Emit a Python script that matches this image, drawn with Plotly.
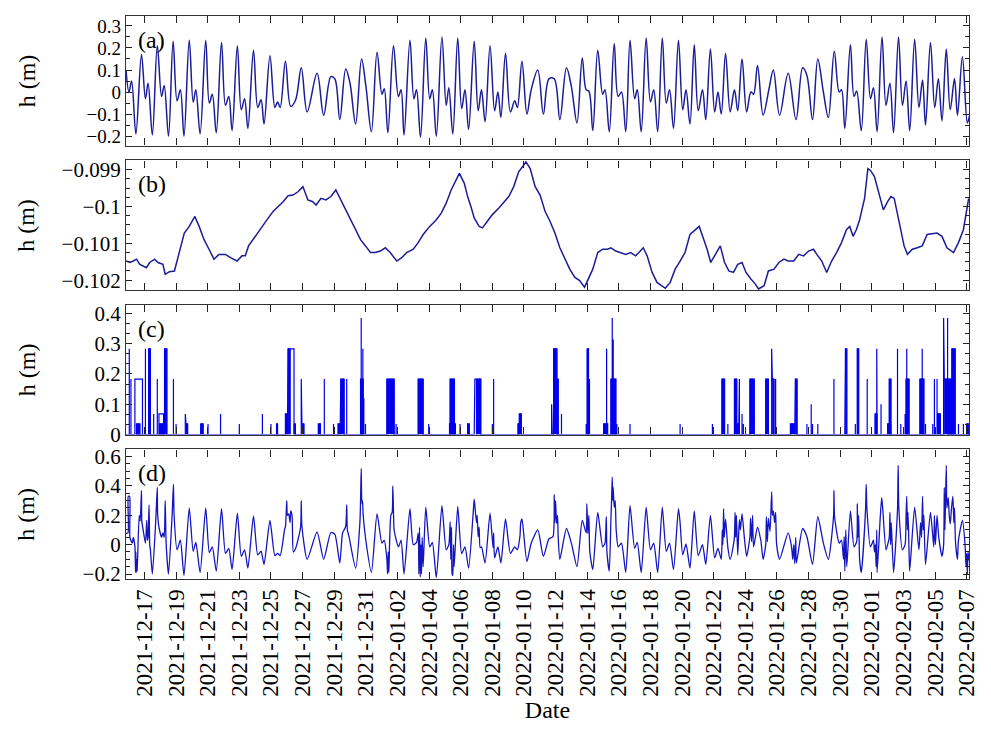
import pandas as pd
import plotly.graph_objects as go
from plotly.subplots import make_subplots

# Time axis: hours since 2021-12-16 00:00
BASE = pd.Timestamp("2021-12-16")

# (a) tidal component
a_hours = [-4, 0.5, 4.5, 11, 19.5, 25.5, 29.5, 36, 43.5, 50, 54, 60.5, 67.5, 73.5, 78.5, 84,
           92, 98, 102, 108.5, 117, 122.5, 127, 133, 141, 147, 152, 157, 165, 171, 176, 181,
           189.5, 196, 201, 205.5, 214.5, 222, 226, 230, 238, 246, 253.5, 262, 271, 286, 296,
           307, 313, 320.5, 329.5, 336, 344.5, 353.5, 360, 368.5, 377, 384.5, 388, 393.5, 402,
           409.5, 413.5, 418, 427, 433, 437, 443, 451, 457, 461, 467, 475.5, 482, 486, 492,
           499.5, 505.5, 510.5, 516, 524.5, 530.5, 535.5, 541, 548.5, 555.5, 560.5, 565, 572,
           579.5, 586, 590, 597, 604.5, 611, 621, 629.5, 638, 646, 654.5, 664.5, 672, 680.5,
           688.5, 694.5, 698.5, 704.5, 712, 719.5, 723, 729.5, 737, 743, 748, 754.5, 761, 768,
           772, 778, 785.5, 792, 797, 803, 810, 816, 821, 827, 834.5, 841, 846, 852, 858.5,
           864.5, 871, 876, 883, 889.5, 894.5, 899.5, 906, 913, 919.5, 924.5, 931, 938, 944.5,
           948.5, 954.5, 963, 972, 978.5, 988, 1001, 1013, 1023, 1029.5, 1038, 1046, 1054.5,
           1062, 1071, 1078.5, 1082, 1087, 1095.5, 1101, 1105, 1112, 1119.5, 1126, 1130.5,
           1136, 1143.5, 1149.5, 1155.5, 1161, 1168.5, 1174.5, 1180, 1185.5, 1193, 1199.5,
           1205, 1209.5, 1217, 1223.5, 1229, 1234.5, 1241, 1247, 1253.5, 1258, 1265.5, 1273,
           1276]
a_h = [0.10, 0.00, 0.05, -0.19, 0.17, -0.03, 0.04, -0.195, 0.21, -0.02, 0.03, -0.20, 0.23,
       -0.04, 0.01, -0.20, 0.235, -0.045, 0.01, -0.19, 0.235, -0.05, -0.01, -0.185, 0.225,
       -0.06, -0.02, -0.175, 0.21, -0.08, -0.03, -0.165, 0.19, -0.07, -0.035, -0.145, 0.165,
       -0.07, -0.045, -0.07, 0.14, -0.065, -0.035, 0.11, -0.09, 0.085, -0.105, 0.07, 0.06,
       -0.125, 0.105, 0.04, -0.145, 0.15, 0.03, -0.18, 0.18, -0.01, 0.015, -0.185, 0.21,
       -0.02, 0.01, -0.195, 0.235, -0.03, 0.01, -0.205, 0.245, -0.03, 0.01, -0.20, 0.25,
       -0.06, 0.02, -0.19, 0.245, -0.075, 0.01, -0.17, 0.23, -0.085, 0.01, -0.135, 0.21,
       -0.085, 0.0, -0.115, 0.175, -0.09, -0.04, -0.07, 0.14, -0.10, 0.01, 0.10, -0.10, 0.06,
       0.06, -0.125, 0.11, 0.025, -0.14, 0.155, 0.01, 0.005, -0.175, 0.19, -0.01, 0.01, -0.18,
       0.22, -0.02, 0.0, -0.18, 0.235, -0.03, 0.01, -0.18, 0.245, -0.045, 0.01, -0.18, 0.245,
       -0.05, 0.01, -0.165, 0.235, -0.08, 0.01, -0.145, 0.215, -0.085, 0.01, -0.125, 0.195,
       -0.09, 0.0, -0.10, 0.175, -0.09, 0.01, -0.085, 0.15, -0.09, 0.0, -0.01, 0.12, -0.105,
       0.015, 0.10, -0.105, 0.085, -0.125, 0.11, 0.075, -0.125, 0.15, 0.0, -0.115, 0.185, 0.0,
       0.01, -0.165, 0.215, -0.02, 0.005, -0.175, 0.24, -0.03, 0.02, -0.18, 0.25, -0.06, 0.04,
       -0.185, 0.25, -0.06, 0.05, -0.175, 0.24, -0.07, 0.055, -0.15, 0.225, -0.07, 0.06,
       -0.13, 0.195, -0.08, 0.06, -0.105, 0.16, -0.14, -0.11]

# (b) long-period component
b_hours = [-4, 2, 7, 12, 17, 22, 27, 32, 39.5, 44.5, 52, 55.5, 62, 69.5, 77, 84.5, 92, 100.5,
           107, 114.5, 122, 129.5, 137, 147, 154.5, 164.5, 172, 177, 182, 192, 202, 212,
           219.5, 227, 234.5, 242, 249.5, 257, 264.5, 272, 279.5, 284.5, 292, 299.5, 307,
           314.5, 322, 329.5, 337, 344.5, 352, 359.5, 367, 374.5, 382, 389.5, 397, 407, 414.5,
           422, 432, 439.5, 447, 457, 467, 474.5, 482, 489.5, 497, 502, 509.5, 514.5, 519.5,
           524.5, 532, 537, 544.5, 552, 562, 569.5, 577, 584.5, 592, 599.5, 603, 609.5, 617,
           624.5, 632, 639.5, 647, 654.5, 662, 669.5, 677, 684.5, 692, 699.5, 704.5, 712,
           719.5, 727, 732, 739.5, 747, 754.5, 762, 769.5, 774.5, 781, 787, 794.5, 802, 809.5,
           814.5, 822, 829.5, 837, 844.5, 852, 859.5, 866, 872, 878, 883.5, 891, 898, 904.5,
           911, 918, 924.5, 931, 937, 944.5, 951, 956, 964.5, 971, 979.5, 987, 994.5, 1001,
           1009.5, 1017, 1024.5, 1032, 1039.5, 1044.5, 1052, 1059.5, 1067, 1074.5, 1082,
           1089.5, 1094.5, 1099.5, 1104.5, 1109.5, 1117, 1122, 1126, 1132, 1139.5, 1145.5,
           1152, 1157, 1162, 1169.5, 1177, 1182, 1189.5, 1197, 1204.5, 1212, 1219.5, 1227,
           1234.5, 1242, 1252, 1259.5, 1267, 1273, 1275]
b_h = [-0.10148, -0.10152, -0.10148, -0.10143, -0.10157, -0.10161, -0.10166, -0.10152,
       -0.10143, -0.10152, -0.10157, -0.10184, -0.10177, -0.10175, -0.10125, -0.10072,
       -0.10054, -0.10027, -0.10054, -0.10090, -0.10116, -0.10143, -0.10130, -0.10130,
       -0.10139, -0.10148, -0.10134, -0.10134, -0.10107, -0.10081, -0.10054, -0.10031,
       -0.10013, -0.10000, -0.09987, -0.09971, -0.09969, -0.09960, -0.09946, -0.09982,
       -0.09987, -0.09996, -0.09978, -0.09982, -0.09973, -0.09955, -0.09982, -0.10009,
       -0.10036, -0.10063, -0.10090, -0.10107, -0.10125, -0.10125, -0.10121, -0.10112,
       -0.10125, -0.10148, -0.10139, -0.10125, -0.10116, -0.10098, -0.10076, -0.10054,
       -0.10036, -0.10018, -0.09991, -0.09955, -0.09928, -0.09910, -0.09937, -0.09973,
       -0.10000, -0.10031, -0.10054, -0.10058, -0.10040, -0.10022, -0.10004, -0.09987,
       -0.09973, -0.09946, -0.09906, -0.09888, -0.09879, -0.09897, -0.09946, -0.09969,
       -0.10013, -0.10040, -0.10072, -0.10112, -0.10143, -0.10170, -0.10192, -0.10201,
       -0.10219, -0.10192, -0.10170, -0.10125, -0.10116, -0.10116, -0.10112, -0.10121,
       -0.10125, -0.10130, -0.10125, -0.10134, -0.10125, -0.10112, -0.10134, -0.10179,
       -0.10206, -0.10215, -0.10222, -0.10206, -0.10170, -0.10148, -0.10125, -0.10076,
       -0.10063, -0.10054, -0.10085, -0.10116, -0.10152, -0.10130, -0.10107, -0.10152,
       -0.10175, -0.10179, -0.10157, -0.10152, -0.10179, -0.10197, -0.10210, -0.10224,
       -0.10215, -0.10175, -0.10170, -0.10152, -0.10143, -0.10148, -0.10148, -0.10130,
       -0.10134, -0.10121, -0.10116, -0.10130, -0.10148, -0.10179, -0.10148, -0.10125,
       -0.10098, -0.10063, -0.10054, -0.10081, -0.10063, -0.10036, -0.09978, -0.09897,
       -0.09902, -0.09919, -0.09973, -0.10009, -0.09987, -0.09973, -0.09978, -0.10045,
       -0.10107, -0.10130, -0.10116, -0.10112, -0.10107, -0.10076, -0.10073, -0.10072,
       -0.10081, -0.10112, -0.10125, -0.10098, -0.10063, -0.10000, -0.09978]

# (c) episodic component: start hour, end hour, level, densely sampled block
c_start = [1, 3.5, 9.5, 12, 25.5, 30.5, 38, 43.5, 46, 47, 54.5, 58.5, 68, 72, 86, 87, 109.5,
           120.5, 139.5, 168, 203, 216, 224.5, 238, 242, 245, 251, 262, 263, 288, 297, 311,
           318, 322, 331, 352, 353, 355.5, 357, 359.5, 392, 406, 439.5, 455.5, 487, 488, 503,
           514.5, 524.5, 525.5, 528, 552, 554, 591, 593, 597, 642, 643, 645, 650, 657, 694.5,
           696, 699.5, 721, 725.5, 732, 734, 735.5, 741, 761, 837, 886, 900.5, 905.5, 909.5,
           919.5, 923, 927, 931, 933, 943, 967, 976, 977, 982, 1004.5, 1011, 1012, 1029.5,
           1036, 1038, 1046, 1070.5, 1087, 1088, 1103, 1106, 1121, 1133, 1135.5, 1142, 1152,
           1154.5, 1158, 1167, 1172, 1178.5, 1180, 1181, 1201, 1204.5, 1209.5, 1220.5, 1223,
           1227, 1228.5, 1237, 1238, 1243, 1249.5, 1259.5, 1267, 1272]
c_end = [1, 3.5, 21, 17, 25.5, 33, 38, 43.5, 53, 54.5, 58, 58.5, 68, 72, 86, 89.5, 113,
         120.5, 139.5, 168, 203, 216, 226, 241, 245, 251, 253, 262, 266, 291, 297, 311, 321,
         327, 331, 356, 353, 355.5, 357, 359.5, 403, 406, 447, 455.5, 496, 494.5, 503, 517,
         524.5, 528, 534.5, 552, 554, 593, 596, 597, 642, 643, 650, 652, 657, 694.5, 698,
         699.5, 727, 725.5, 739.5, 734, 735.5, 741, 761, 837, 886, 904.5, 905.5, 909.5, 923,
         926, 927, 931, 933, 949.5, 971, 976, 979.5, 982, 1011, 1011, 1014.5, 1029.5, 1036,
         1038, 1046, 1070.5, 1087, 1090, 1103, 1108, 1121, 1136, 1135.5, 1142, 1157, 1157,
         1158, 1167, 1172, 1178.5, 1184.5, 1181, 1207, 1204.5, 1209.5, 1220.5, 1223, 1227,
         1232, 1237, 1252, 1243, 1254.5, 1259.5, 1267, 1274.5]
c_h = [0.283, 0.183, 0.183, 0.035, 0.283, 0.283, 0.068, 0.183, 0.068, 0.035, 0.283, 0.183,
       0.183, 0.035, 0.068, 0.035, 0.035, 0.035, 0.068, 0.035, 0.068, 0.035, 0.035, 0.068,
       0.283, 0.283, 0.035, 0.183, 0.035, 0.035, 0.183, 0.035, 0.035, 0.183, 0.183, 0.183,
       0.385, 0.283, 0.12, 0.035, 0.183, 0.035, 0.183, 0.035, 0.035, 0.183, 0.035, 0.035,
       0.035, 0.183, 0.183, 0.035, 0.183, 0.035, 0.068, 0.035, 0.1, 0.035, 0.283, 0.183,
       0.068, 0.035, 0.283, 0.183, 0.035, 0.283, 0.183, 0.385, 0.314, 0.035, 0.035, 0.035,
       0.035, 0.183, 0.035, 0.035, 0.183, 0.035, 0.183, 0.068, 0.035, 0.183, 0.183, 0.283,
       0.183, 0.183, 0.035, 0.068, 0.183, 0.035, 0.1, 0.035, 0.035, 0.183, 0.035, 0.283,
       0.035, 0.283, 0.183, 0.068, 0.283, 0.1, 0.035, 0.183, 0.035, 0.283, 0.035, 0.068,
       0.183, 0.283, 0.183, 0.283, 0.035, 0.035, 0.183, 0.183, 0.068, 0.385, 0.183, 0.385,
       0.283, 0.035, 0.035, 0.035]
c_dense = [0, 0, 0, 1, 0, 1, 0, 0, 0, 1, 1, 0, 0, 0, 0, 1, 1, 0, 0, 0, 0, 0, 1, 1, 1, 0, 1,
           0, 1, 1, 0, 0, 1, 1, 0, 1, 0, 0, 0, 0, 1, 0, 1, 0, 1, 1, 0, 1, 0, 0, 1, 0, 0, 1, 1,
           0, 0, 0, 1, 1, 0, 0, 1, 0, 1, 0, 1, 0, 0, 0, 0, 0, 0, 1, 0, 0, 1, 1, 0, 0, 0, 1, 1,
           0, 1, 0, 1, 0, 1, 0, 0, 0, 0, 0, 0, 1, 0, 1, 0, 1, 0, 0, 1, 1, 0, 0, 0, 0, 1, 0, 1,
           0, 0, 0, 0, 0, 1, 0, 1, 0, 1, 0, 0, 1]

# (d) total water level
d_hours = [-4, -1, -0.5, 1.5, 2, 5.5, 7, 9.5, 10.5, 11, 11.5, 12.5, 13, 16, 17.5, 19.5, 20,
           22, 25.5, 27.5, 28.5, 29.5, 31, 32, 33, 36, 41, 43.5, 44, 46, 50, 52, 54, 55.5, 57,
           60.5, 66, 68, 69, 73.5, 78.5, 84, 92, 98, 102, 108.5, 117, 122.5, 127, 133, 141,
           147, 152, 157, 165, 171, 176, 181, 189.5, 196, 201, 205.5, 214.5, 222, 226, 230,
           237, 238, 240, 241, 243, 245, 246, 248, 250, 253.5, 261, 262, 263, 271, 286, 296,
           307, 313, 320.5, 324.5, 327, 329.5, 331, 332, 334.5, 344.5, 351, 352, 353, 354, 355,
           356, 360, 368.5, 377, 384.5, 388, 392, 393, 394, 395, 396, 398, 400, 401, 402, 403,
           409.5, 413.5, 418, 427, 432, 437, 439.5, 440.5, 441.5, 442.5, 443.5, 444.5, 445.5,
           447, 451, 457, 461, 467, 475.5, 482, 486, 488, 489, 490, 491, 492, 493, 494, 499.5,
           505.5, 510.5, 516, 523, 524.5, 526, 528, 529, 530.5, 532, 533.5, 535.5, 541, 548.5,
           553, 554, 555.5, 560.5, 565, 572, 579.5, 586, 590, 594, 595, 597, 604.5, 611, 621,
           629.5, 638, 644, 646, 647, 648, 649.5, 651, 652, 654.5, 664.5, 672, 680.5, 688.5,
           694.5, 695.5, 697, 698.5, 700, 704.5, 712, 719.5, 723, 725, 726, 729.5, 732, 733,
           734, 735, 735.5, 737, 738.5, 740, 743, 748, 754.5, 761, 768, 772, 778, 785.5, 792,
           797, 803, 810, 816, 821, 827, 834.5, 837, 841, 846, 852, 858.5, 864.5, 871, 876,
           883, 889.5, 894.5, 899.5, 901, 902, 903, 904, 906, 909.5, 913, 918, 919.5, 920.5,
           921.5, 922.5, 924.5, 927, 928.5, 931, 934.5, 938, 943, 944, 945.5, 947, 948.5,
           954.5, 959.5, 963, 967, 968, 969.5, 971, 973.5, 976, 977, 978.5, 980.5, 982, 983.5,
           988, 1001, 1006, 1008, 1009.5, 1011, 1012.5, 1013.5, 1023, 1029.5, 1038, 1046,
           1054.5, 1062, 1070, 1070.5, 1071.5, 1078.5, 1082, 1085, 1086, 1087, 1088.5, 1090,
           1095.5, 1101, 1105, 1106, 1107, 1108, 1109.5, 1112, 1118.5, 1119.5, 1120.5, 1126,
           1130.5, 1132, 1133.5, 1134.5, 1135.5, 1136, 1141, 1143, 1144.5, 1149.5, 1152,
           1154.5, 1155.5, 1156.5, 1157.5, 1161, 1167, 1168, 1169, 1174.5, 1178.5, 1180, 1181,
           1182, 1183, 1184.5, 1185.5, 1193, 1199.5, 1202, 1203.5, 1205, 1206, 1207, 1209.5,
           1217, 1222, 1223, 1224.5, 1227, 1229.5, 1234.5, 1237, 1238, 1239, 1240, 1241, 1242,
           1244, 1245.5, 1247, 1249, 1251, 1252.5, 1253.5, 1255, 1258, 1259.5, 1265.5, 1269.5,
           1271, 1272, 1273, 1274, 1276]
d_h = [0.076, 0.08, 0.33, 0.33, 0.05, 0.01, 0.05, -0.01, -0.19, -0.05, -0.19, -0.1, -0.18,
       0.2, 0.16, 0.37, 0.16, 0.1, 0.01, 0.165, 0.03, 0.05, 0.27, 0.0, -0.035, -0.2, 0.15,
       0.39, 0.21, 0.12, 0.05, 0.08, 0.05, 0.3, 0.0, -0.2, 0.2, 0.41, 0.2, -0.035, 0.03,
       -0.21, 0.25, -0.045, 0.015, -0.19, 0.25, -0.055, -0.015, -0.18, 0.245, -0.06, -0.025,
       -0.17, 0.215, -0.08, -0.035, -0.16, 0.195, -0.07, -0.045, -0.135, 0.165, -0.075,
       -0.06, -0.075, 0.11, 0.12, 0.30, 0.2, 0.21, 0.15, 0.23, 0.2, -0.05, -0.025, 0.12, 0.3,
       0.125, -0.1, 0.087, -0.1, 0.083, 0.07, -0.125, 0.076, 0.1, 0.125, 0.27, 0.1, 0.054,
       -0.16, 0.15, 0.3, 0.52, 0.28, 0.3, 0.2, 0.03, -0.19, 0.21, 0.01, 0.03, -0.1, -0.2,
       -0.05, -0.19, 0.0, 0.2, 0.22, 0.40, 0.22, 0.1, -0.015, 0.03, -0.2, 0.245, 0.0, 0.015,
       0.08, -0.2, 0.12, -0.22, 0.0, -0.2, 0.05, -0.15, 0.255, -0.015, 0.015, -0.225, 0.265,
       -0.035, 0.0, 0.155, -0.1, 0.12, -0.2, -0.21, 0.0, -0.15, 0.26, -0.06, -0.015, -0.16,
       0.22, 0.31, 0.24, 0.15, 0.2, 0.054, 0.12, -0.02, -0.015, -0.125, 0.215, -0.02, 0.08,
       -0.09, -0.015, -0.125, 0.175, -0.06, -0.015, -0.035, 0.06, 0.145, 0.175, -0.115, 0.01,
       0.1, -0.08, 0.04, 0.054, 0.34, 0.15, 0.3, 0.145, 0.2, 0.05, -0.1, 0.11, 0.01, -0.15,
       0.165, 0.08, 0.28, 0.076, 0.2, -0.05, -0.17, 0.22, -0.015, 0.01, 0.19, -0.05, -0.18,
       0.17, 0.3, 0.46, 0.3, 0.39, 0.255, 0.3, 0.1, -0.015, 0.01, -0.19, 0.265, -0.025,
       0.015, -0.19, 0.255, -0.035, 0.01, -0.19, 0.255, -0.045, 0.01, -0.17, 0.245, 0.15,
       -0.07, 0.005, -0.16, 0.23, -0.075, 0.0, -0.135, 0.2, -0.09, -0.025, -0.1, 0.1, 0.0,
       0.245, 0.05, 0.175, -0.02, -0.1, 0.0, 0.054, 0.22, 0.05, 0.2, -0.07, 0.17, 0.1, 0.21,
       0.05, -0.08, 0.054, 0.18, 0.02, 0.2, -0.015, 0.12, 0.03, -0.1, 0.0, 0.19, 0.02, 0.18,
       0.09, 0.36, 0.2, 0.23, 0.15, 0.22, 0.0, -0.1, 0.08, -0.01, -0.1, 0.0, -0.13, 0.05,
       -0.125, 0.11, 0.054, -0.135, 0.19, 0.01, -0.1, 0.2, 0.37, 0.19, 0.01, 0.03, -0.1,
       0.054, -0.18, 0.1, -0.15, 0.23, -0.015, 0.02, 0.28, 0.05, 0.2, -0.1, -0.19, 0.24,
       0.41, 0.25, -0.015, 0.03, -0.05, 0.0, -0.15, 0.1, -0.19, 0.2, 0.32, 0.25, -0.035, 0.0,
       0.05, 0.22, 0.0, 0.15, -0.19, 0.24, 0.54, 0.25, -0.035, 0.0, 0.2, 0.33, 0.1, 0.22,
       -0.05, -0.18, 0.255, -0.035, 0.15, 0.05, 0.33, 0.1, 0.2, -0.135, 0.22, -0.015, 0.2,
       0.0, 0.2, 0.054, -0.08, 0.0, 0.39, 0.1, 0.32, 0.54, 0.25, 0.32, 0.2, 0.14, 0.25, 0.33,
       0.15, 0.25, 0.02, -0.1, 0.03, 0.165, 0.0, -0.15, -0.06, -0.2, -0.05, -0.11]

tick_dates = pd.date_range("2021-12-17", "2022-02-07", freq="2D")

LINE = "#1c1c98"
LINE_D = "#1414c0"
BLUE = "#0000ee"
FONT = "Liberation Serif"


def to_time(hours):
    return [BASE + pd.Timedelta(hours=h) for h in hours]


fig = make_subplots(rows=4, cols=1, shared_xaxes=True, vertical_spacing=15 / 569)

fig.add_trace(go.Scatter(x=to_time(a_hours), y=a_h, mode="lines",
                         line=dict(color=LINE, width=1.5, shape="spline", smoothing=1.0)),
              row=1, col=1)
fig.add_trace(go.Scatter(x=to_time(b_hours), y=b_h, mode="lines",
                         line=dict(color=LINE, width=1.5)), row=2, col=1)

# (c) outline of every episode, drawn as a single step line along zero
order = sorted(range(len(c_start)), key=lambda i: c_start[i])
cx, cy = [-4], [0.0]
for i in order:
    cx += [c_start[i], c_start[i], c_end[i], c_end[i]]
    cy += [0.0, c_h[i], c_h[i], 0.0]
cx.append(1276)
cy.append(0.0)
# densely sampled episodes appear as solid blocks
fx, fy = [], []
for i in order:
    if c_dense[i]:
        fx += [c_start[i], c_start[i], c_end[i], c_end[i], None]
        fy += [0.0, c_h[i], c_h[i], 0.0, None]
fig.add_trace(go.Scatter(x=[None if v is None else BASE + pd.Timedelta(hours=v) for v in fx],
                         y=fy, mode="lines", fill="toself", fillcolor=BLUE,
                         line=dict(color=BLUE, width=0.8)), row=3, col=1)
fig.add_trace(go.Scatter(x=to_time(cx), y=cy, mode="lines",
                         line=dict(color=BLUE, width=1.2)), row=3, col=1)

fig.add_trace(go.Scatter(x=to_time(d_hours), y=d_h, mode="lines",
                         line=dict(color=LINE_D, width=1.3, shape="spline", smoothing=0.6)),
              row=4, col=1)

x_start = BASE + pd.Timedelta(hours=-4)
x_end = BASE + pd.Timedelta(hours=1275.5)

axis_common = dict(showline=True, linecolor="#333333", linewidth=1.3, mirror="ticks",
                   ticks="inside", tickcolor="#222222", showgrid=False, zeroline=False)

for r in range(1, 5):
    fig.update_xaxes(range=[x_start, x_end], tickvals=tick_dates, ticklen=7, tickwidth=1.2,
                     tickformat="%Y-%m-%d", tickangle=-90, showticklabels=(r == 4),
                     tickfont=dict(family=FONT, size=23, color="black"),
                     row=r, col=1, **axis_common)

y_specs = [
    dict(range=[-0.243, 0.345], dtick=0.1, tick0=0, minor_dtick=0.05),
    dict(range=[-0.102269, -0.09875], dtick=0.001, tick0=-0.1, minor_dtick=0.00025),
    dict(range=[0.0, 0.428], dtick=0.1, tick0=0, minor_dtick=0.1 / 3),
    dict(range=[-0.234, 0.649], dtick=0.2, tick0=0, minor_dtick=0.05),
]
for r, s in enumerate(y_specs, start=1):
    fig.update_yaxes(range=s["range"], dtick=s["dtick"], tick0=s["tick0"], ticklen=6,
                     tickwidth=1.2, tickfont=dict(family=FONT, size=19 if r == 1 else 21,
                                                  color="black"),
                     minor=dict(ticks="inside", ticklen=4, dtick=s["minor_dtick"],
                                tickcolor="#222222", showgrid=False),
                     row=r, col=1, **axis_common)

fig.update_xaxes(title=dict(text="Date", font=dict(family=FONT, size=24, color="black"),
                            standoff=4), row=4, col=1)

annotations = []
for r, lab in enumerate(["(a)", "(b)", "(c)", "(d)"], start=1):
    yref = "y domain" if r == 1 else f"y{r} domain"
    xref = "x domain" if r == 1 else f"x{r} domain"
    annotations.append(dict(text=lab, xref=xref, yref=yref, x=0.012, y=0.815,
                            xanchor="left", yanchor="middle", showarrow=False,
                            font=dict(family=FONT, size=24, color="black")))
    annotations.append(dict(text="h (m)", xref="paper", yref=yref, x=-0.118, y=0.5,
                            xanchor="center", yanchor="middle", textangle=-90,
                            showarrow=False, font=dict(family=FONT, size=24, color="black")))

fig.update_layout(width=991, height=729, margin=dict(l=126, r=12, t=13, b=147),
                  paper_bgcolor="white", plot_bgcolor="white", showlegend=False,
                  annotations=annotations)

fig.write_html("out.html")
